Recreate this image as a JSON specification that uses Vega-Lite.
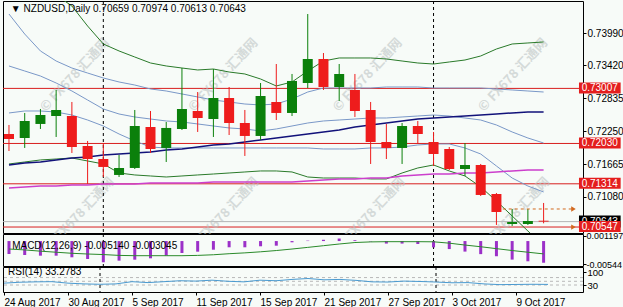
{
  "$schema": "https://vega.github.io/schema/vega-lite/v6.json",
  "padding": {"left": 2, "right": 0, "top": 0, "bottom": 0},
  "background": "#f7fbf8",
  "spacing": 1,
  "bounds": "flush",
  "config": {
    "view": {"stroke": "#000000", "strokeWidth": 1, "fill": "#f7fbf8"},
    "font": "Liberation Sans",
    "axis": {"labelFont": "Liberation Sans", "labelFontSize": 10, "labelColor": "#000000", "tickColor": "#000000", "tickSize": 3, "domain": false, "grid": false, "title": null, "labelPadding": 1},
    "text": {"font": "Liberation Sans", "fontSize": 10}
  },
  "datasets": {
    "d": [
      {"i":0,"d":"2017-08-24","o":0.72198,"h":0.72358,"l":0.71896,"c":0.72109,"u2":0.75144,"u1":0.74327,"m":0.73405,"l1":0.72571,"l2":0.71666,"ma":0.71648,"mb":0.7124,"macd":-0.00307,"sig":-0.00189,"rsi":40},
      {"i":1,"d":"2017-08-25","o":0.72127,"h":0.72571,"l":0.7195,"c":0.72429,"u2":0.75002,"u1":0.73972,"m":0.73316,"l1":0.72606,"l2":0.71701,"ma":0.71684,"mb":0.71258,"macd":-0.00331,"sig":-0.0021,"rsi":45},
      {"i":2,"d":"2017-08-28","o":0.72376,"h":0.72642,"l":0.72287,"c":0.72535,"u2":0.74842,"u1":0.73671,"m":0.73227,"l1":0.72606,"l2":0.71737,"ma":0.71701,"mb":0.71275,"macd":-0.00347,"sig":-0.0024,"rsi":47},
      {"i":3,"d":"2017-08-29","o":0.72517,"h":0.72979,"l":0.72145,"c":0.72624,"u2":0.74664,"u1":0.73493,"m":0.73103,"l1":0.72588,"l2":0.71754,"ma":0.71737,"mb":0.71275,"macd":-0.00347,"sig":-0.00265,"rsi":48},
      {"i":4,"d":"2017-08-30","o":0.72517,"h":0.72766,"l":0.71861,"c":0.71967,"u2":0.74469,"u1":0.73369,"m":0.72961,"l1":0.72535,"l2":0.71772,"ma":0.71772,"mb":0.71293,"macd":-0.00385,"sig":-0.0029,"rsi":40},
      {"i":5,"d":"2017-08-31","o":0.71985,"h":0.72074,"l":0.71311,"c":0.71754,"u2":0.74114,"u1":0.7328,"m":0.72801,"l1":0.72446,"l2":0.71719,"ma":0.7179,"mb":0.71293,"macd":-0.00425,"sig":-0.00307,"rsi":36},
      {"i":6,"d":"2017-09-01","o":0.71754,"h":0.72038,"l":0.71435,"c":0.71613,"u2":0.73795,"u1":0.73192,"m":0.72642,"l1":0.7234,"l2":0.71666,"ma":0.71825,"mb":0.71311,"macd":-0.00503,"sig":-0.0032,"rsi":34},
      {"i":7,"d":"2017-09-04","o":0.71471,"h":0.71825,"l":0.71435,"c":0.71595,"u2":0.73671,"u1":0.73121,"m":0.72553,"l1":0.72198,"l2":0.71506,"ma":0.71843,"mb":0.71311,"macd":-0.00465,"sig":-0.0034,"rsi":36},
      {"i":8,"d":"2017-09-05","o":0.71595,"h":0.72624,"l":0.71577,"c":0.7234,"u2":0.73564,"u1":0.73067,"m":0.725,"l1":0.72074,"l2":0.71471,"ma":0.71861,"mb":0.71311,"macd":-0.00442,"sig":-0.00347,"rsi":48},
      {"i":9,"d":"2017-09-06","o":0.72322,"h":0.72606,"l":0.71861,"c":0.71932,"u2":0.73458,"u1":0.72997,"m":0.72464,"l1":0.71967,"l2":0.71453,"ma":0.71879,"mb":0.71329,"macd":-0.00409,"sig":-0.00347,"rsi":43},
      {"i":10,"d":"2017-09-07","o":0.7195,"h":0.72411,"l":0.71701,"c":0.72305,"u2":0.73405,"u1":0.72961,"m":0.72429,"l1":0.7195,"l2":0.71435,"ma":0.71914,"mb":0.71329,"macd":-0.00347,"sig":-0.00347,"rsi":48},
      {"i":11,"d":"2017-09-08","o":0.72287,"h":0.73369,"l":0.72269,"c":0.72642,"u2":0.73369,"u1":0.72908,"m":0.72411,"l1":0.7195,"l2":0.71453,"ma":0.71932,"mb":0.71329,"macd":-0.00283,"sig":-0.00347,"rsi":53},
      {"i":12,"d":"2017-09-11","o":0.72606,"h":0.72943,"l":0.72234,"c":0.72482,"u2":0.73334,"u1":0.72855,"m":0.72376,"l1":0.7195,"l2":0.71471,"ma":0.71967,"mb":0.71329,"macd":-0.00252,"sig":-0.0034,"rsi":51},
      {"i":13,"d":"2017-09-12","o":0.72464,"h":0.73351,"l":0.72145,"c":0.72837,"u2":0.73351,"u1":0.72801,"m":0.7234,"l1":0.7195,"l2":0.71488,"ma":0.72003,"mb":0.71346,"macd":-0.00205,"sig":-0.00325,"rsi":56},
      {"i":14,"d":"2017-09-13","o":0.72837,"h":0.73032,"l":0.7218,"c":0.72393,"u2":0.73298,"u1":0.72766,"m":0.72305,"l1":0.7195,"l2":0.71506,"ma":0.72021,"mb":0.71346,"macd":-0.00148,"sig":-0.003,"rsi":50},
      {"i":15,"d":"2017-09-14","o":0.72393,"h":0.72624,"l":0.71808,"c":0.72163,"u2":0.73263,"u1":0.7273,"m":0.72287,"l1":0.7195,"l2":0.71524,"ma":0.72056,"mb":0.71346,"macd":-0.00148,"sig":-0.0028,"rsi":47},
      {"i":16,"d":"2017-09-15","o":0.72163,"h":0.73103,"l":0.72092,"c":0.72872,"u2":0.73174,"u1":0.72713,"m":0.72251,"l1":0.7195,"l2":0.71542,"ma":0.72092,"mb":0.71346,"macd":-0.00124,"sig":-0.00255,"rsi":56},
      {"i":17,"d":"2017-09-18","o":0.72766,"h":0.7344,"l":0.72446,"c":0.72571,"u2":0.7305,"u1":0.7273,"m":0.72287,"l1":0.7195,"l2":0.71542,"ma":0.72127,"mb":0.71346,"macd":-0.0011,"sig":-0.00225,"rsi":53},
      {"i":18,"d":"2017-09-19","o":0.72571,"h":0.73263,"l":0.72517,"c":0.73139,"u2":0.73121,"u1":0.72819,"m":0.7234,"l1":0.7195,"l2":0.71524,"ma":0.72163,"mb":0.71346,"macd":-0.0003,"sig":-0.00189,"rsi":60},
      {"i":19,"d":"2017-09-20","o":0.73103,"h":0.74327,"l":0.73014,"c":0.73529,"u2":0.73316,"u1":0.72943,"m":0.72393,"l1":0.7195,"l2":0.71435,"ma":0.72198,"mb":0.71364,"macd":0.0001,"sig":-0.0015,"rsi":65},
      {"i":20,"d":"2017-09-21","o":0.73529,"h":0.73635,"l":0.72979,"c":0.73032,"u2":0.73493,"u1":0.73014,"m":0.72429,"l1":0.71932,"l2":0.71417,"ma":0.72234,"mb":0.71382,"macd":0.0003,"sig":-0.0011,"rsi":58},
      {"i":21,"d":"2017-09-22","o":0.73032,"h":0.7344,"l":0.72784,"c":0.73263,"u2":0.73547,"u1":0.73014,"m":0.72446,"l1":0.71932,"l2":0.71417,"ma":0.72269,"mb":0.714,"macd":0.0006,"sig":-0.0007,"rsi":60},
      {"i":22,"d":"2017-09-25","o":0.72979,"h":0.73263,"l":0.725,"c":0.72606,"u2":0.73547,"u1":0.73014,"m":0.72464,"l1":0.71932,"l2":0.71417,"ma":0.72322,"mb":0.714,"macd":0.0002,"sig":-0.00035,"rsi":55},
      {"i":23,"d":"2017-09-26","o":0.72624,"h":0.72766,"l":0.71666,"c":0.72056,"u2":0.73547,"u1":0.73014,"m":0.72482,"l1":0.7195,"l2":0.714,"ma":0.72358,"mb":0.71417,"macd":-0.0001,"sig":-0.0002,"rsi":47},
      {"i":24,"d":"2017-09-27","o":0.72056,"h":0.72376,"l":0.71754,"c":0.7195,"u2":0.73529,"u1":0.73032,"m":0.72482,"l1":0.7195,"l2":0.714,"ma":0.72393,"mb":0.71417,"macd":-0.0006,"sig":-0.00015,"rsi":46},
      {"i":25,"d":"2017-09-28","o":0.7195,"h":0.72393,"l":0.71666,"c":0.7234,"u2":0.73493,"u1":0.73032,"m":0.725,"l1":0.71967,"l2":0.71506,"ma":0.72429,"mb":0.71453,"macd":-0.0006,"sig":-0.00015,"rsi":51},
      {"i":26,"d":"2017-09-29","o":0.7234,"h":0.72429,"l":0.72021,"c":0.72198,"u2":0.73458,"u1":0.73032,"m":0.72517,"l1":0.72003,"l2":0.71595,"ma":0.72464,"mb":0.71471,"macd":-0.0007,"sig":-0.00015,"rsi":49},
      {"i":27,"d":"2017-10-02","o":0.72056,"h":0.72234,"l":0.7163,"c":0.71843,"u2":0.7344,"u1":0.73014,"m":0.72535,"l1":0.72021,"l2":0.71648,"ma":0.72482,"mb":0.71488,"macd":-0.0015,"sig":-0.00018,"rsi":46},
      {"i":28,"d":"2017-10-03","o":0.71932,"h":0.71967,"l":0.71559,"c":0.71577,"u2":0.73476,"u1":0.73014,"m":0.72517,"l1":0.72021,"l2":0.71542,"ma":0.725,"mb":0.71488,"macd":-0.0019,"sig":-0.0005,"rsi":42},
      {"i":29,"d":"2017-10-04","o":0.71577,"h":0.72038,"l":0.71453,"c":0.71648,"u2":0.73511,"u1":0.73014,"m":0.72482,"l1":0.7195,"l2":0.71453,"ma":0.72517,"mb":0.71506,"macd":-0.0025,"sig":-0.00095,"rsi":43},
      {"i":30,"d":"2017-10-05","o":0.71648,"h":0.71666,"l":0.71098,"c":0.71116,"u2":0.73582,"u1":0.73014,"m":0.72446,"l1":0.71843,"l2":0.71258,"ma":0.72535,"mb":0.71506,"macd":-0.0031,"sig":-0.00135,"rsi":36},
      {"i":31,"d":"2017-10-06","o":0.71133,"h":0.71151,"l":0.70584,"c":0.70814,"u2":0.73706,"u1":0.72997,"m":0.72358,"l1":0.7163,"l2":0.71009,"ma":0.72553,"mb":0.71524,"macd":-0.0036,"sig":-0.0018,"rsi":32},
      {"i":32,"d":"2017-10-09","o":0.70601,"h":0.70867,"l":0.70566,"c":0.70636,"u2":0.73795,"u1":0.72979,"m":0.72234,"l1":0.71417,"l2":0.70743,"ma":0.72571,"mb":0.71542,"macd":-0.0044,"sig":-0.00225,"rsi":33},
      {"i":33,"d":"2017-10-10","o":0.70601,"h":0.70867,"l":0.70584,"c":0.70654,"u2":0.73813,"u1":0.72961,"m":0.72127,"l1":0.71275,"l2":0.70477,"ma":0.72588,"mb":0.71559,"macd":-0.0048,"sig":-0.00265,"rsi":34},
      {"i":34,"d":"2017-10-11","o":0.70659,"h":0.70974,"l":0.70613,"c":0.70643,"u2":0.73831,"u1":0.72943,"m":0.72038,"l1":0.71169,"l2":0.70211,"ma":0.72588,"mb":0.71559,"macd":-0.00514,"sig":-0.003045,"rsi":33.28}
    ],
    "levels": [{"level":0.73007},{"level":0.7203},{"level":0.71314},{"level":0.70547}],
    "seps": [{"i":6},{"i":27}],
    "wm": [{"t":"© FX678 汇通网"}]
  },
  "vconcat": [
    {
      "width": 580,
      "height": 232,
      "data": {"name": "d"},
      "layer": [
        {"data": {"name": "levels"}, "mark": {"type": "rule", "color": "#d81e1e", "strokeWidth": 1},
         "encoding": {"y": {"field": "level", "type": "quantitative", "scale": {"domain": [0.70441, 0.74558], "nice": false, "zero": false}, "axis": {"orient": "right", "values": [0.7399, 0.7342, 0.72835, 0.7225, 0.71665, 0.7108], "format": ".5f"}}}},
        {"data": {"values": [{"p": 0.70643}]}, "mark": {"type": "rule", "color": "#b4b4b4", "strokeWidth": 1},
         "encoding": {"y": {"field": "p", "type": "quantitative", "scale": {"domain": [0.70441, 0.74558], "nice": false, "zero": false}}}},
        {"data": {"name": "wm"}, "mark": {"type": "text", "font": "Noto Sans CJK SC", "fontWeight": "bold", "fontSize": 13, "angle": -47, "align": "center", "baseline": "middle", "color": "#b9c0c0", "opacity": 0.55, "clip": false},
         "encoding": {"x": {"datum": 4.19, "type": "quantitative", "scale": {"domain": [-0.0625, 36.1875], "nice": false, "zero": false}}, "y": {"datum": 0.73245, "type": "quantitative", "scale": {"domain": [0.70441, 0.74558], "nice": false, "zero": false}}, "text": {"field": "t"}}},
        {"data": {"name": "wm"}, "mark": {"type": "text", "font": "Noto Sans CJK SC", "fontWeight": "bold", "fontSize": 13, "angle": -47, "align": "center", "baseline": "middle", "color": "#b9c0c0", "opacity": 0.55, "clip": false},
         "encoding": {"x": {"datum": 13.63, "type": "quantitative", "scale": {"domain": [-0.0625, 36.1875], "nice": false, "zero": false}}, "y": {"datum": 0.73245, "type": "quantitative", "scale": {"domain": [0.70441, 0.74558], "nice": false, "zero": false}}, "text": {"field": "t"}}},
        {"data": {"name": "wm"}, "mark": {"type": "text", "font": "Noto Sans CJK SC", "fontWeight": "bold", "fontSize": 13, "angle": -47, "align": "center", "baseline": "middle", "color": "#b9c0c0", "opacity": 0.55, "clip": false},
         "encoding": {"x": {"datum": 22.81, "type": "quantitative", "scale": {"domain": [-0.0625, 36.1875], "nice": false, "zero": false}}, "y": {"datum": 0.73245, "type": "quantitative", "scale": {"domain": [0.70441, 0.74558], "nice": false, "zero": false}}, "text": {"field": "t"}}},
        {"data": {"name": "wm"}, "mark": {"type": "text", "font": "Noto Sans CJK SC", "fontWeight": "bold", "fontSize": 13, "angle": -47, "align": "center", "baseline": "middle", "color": "#b9c0c0", "opacity": 0.55, "clip": false},
         "encoding": {"x": {"datum": 32.06, "type": "quantitative", "scale": {"domain": [-0.0625, 36.1875], "nice": false, "zero": false}}, "y": {"datum": 0.73245, "type": "quantitative", "scale": {"domain": [0.70441, 0.74558], "nice": false, "zero": false}}, "text": {"field": "t"}}},
        {"data": {"name": "wm"}, "mark": {"type": "text", "font": "Noto Sans CJK SC", "fontWeight": "bold", "fontSize": 13, "angle": -47, "align": "center", "baseline": "middle", "color": "#b9c0c0", "opacity": 0.55, "clip": false},
         "encoding": {"x": {"datum": 4.5, "type": "quantitative", "scale": {"domain": [-0.0625, 36.1875], "nice": false, "zero": false}}, "y": {"datum": 0.70779, "type": "quantitative", "scale": {"domain": [0.70441, 0.74558], "nice": false, "zero": false}}, "text": {"field": "t"}}},
        {"data": {"name": "wm"}, "mark": {"type": "text", "font": "Noto Sans CJK SC", "fontWeight": "bold", "fontSize": 13, "angle": -47, "align": "center", "baseline": "middle", "color": "#b9c0c0", "opacity": 0.55, "clip": false},
         "encoding": {"x": {"datum": 13.7, "type": "quantitative", "scale": {"domain": [-0.0625, 36.1875], "nice": false, "zero": false}}, "y": {"datum": 0.70779, "type": "quantitative", "scale": {"domain": [0.70441, 0.74558], "nice": false, "zero": false}}, "text": {"field": "t"}}},
        {"data": {"name": "wm"}, "mark": {"type": "text", "font": "Noto Sans CJK SC", "fontWeight": "bold", "fontSize": 13, "angle": -47, "align": "center", "baseline": "middle", "color": "#b9c0c0", "opacity": 0.55, "clip": false},
         "encoding": {"x": {"datum": 23.0, "type": "quantitative", "scale": {"domain": [-0.0625, 36.1875], "nice": false, "zero": false}}, "y": {"datum": 0.70779, "type": "quantitative", "scale": {"domain": [0.70441, 0.74558], "nice": false, "zero": false}}, "text": {"field": "t"}}},
        {"data": {"name": "wm"}, "mark": {"type": "text", "font": "Noto Sans CJK SC", "fontWeight": "bold", "fontSize": 13, "angle": -47, "align": "center", "baseline": "middle", "color": "#b9c0c0", "opacity": 0.55, "clip": false},
         "encoding": {"x": {"datum": 32.2, "type": "quantitative", "scale": {"domain": [-0.0625, 36.1875], "nice": false, "zero": false}}, "y": {"datum": 0.70779, "type": "quantitative", "scale": {"domain": [0.70441, 0.74558], "nice": false, "zero": false}}, "text": {"field": "t"}}},
        {"data": {"name": "seps"}, "mark": {"type": "rule", "color": "#000000", "strokeDash": [3, 3], "strokeWidth": 1},
         "encoding": {"x": {"field": "i", "type": "quantitative", "scale": {"domain": [-0.0625, 36.1875], "nice": false, "zero": false}, "axis": null}}},
        {"mark": {"type": "line", "color": "#2a7a2a", "strokeWidth": 1, "clip": true},
         "encoding": {"x": {"field": "i", "type": "quantitative", "scale": {"domain": [-0.0625, 36.1875], "nice": false, "zero": false}, "axis": null}, "y": {"field": "u2", "type": "quantitative", "scale": {"domain": [0.70441, 0.74558], "nice": false, "zero": false}}}},
        {"mark": {"type": "line", "color": "#2a7a2a", "strokeWidth": 1, "clip": true},
         "encoding": {"x": {"field": "i", "type": "quantitative", "scale": {"domain": [-0.0625, 36.1875], "nice": false, "zero": false}}, "y": {"field": "l2", "type": "quantitative", "scale": {"domain": [0.70441, 0.74558], "nice": false, "zero": false}}}},
        {"mark": {"type": "line", "color": "#7a98c8", "strokeWidth": 1, "clip": true},
         "encoding": {"x": {"field": "i", "type": "quantitative", "scale": {"domain": [-0.0625, 36.1875], "nice": false, "zero": false}}, "y": {"field": "u1", "type": "quantitative", "scale": {"domain": [0.70441, 0.74558], "nice": false, "zero": false}}}},
        {"mark": {"type": "line", "color": "#7a98c8", "strokeWidth": 1, "clip": true},
         "encoding": {"x": {"field": "i", "type": "quantitative", "scale": {"domain": [-0.0625, 36.1875], "nice": false, "zero": false}}, "y": {"field": "m", "type": "quantitative", "scale": {"domain": [0.70441, 0.74558], "nice": false, "zero": false}}}},
        {"mark": {"type": "line", "color": "#7a98c8", "strokeWidth": 1, "clip": true},
         "encoding": {"x": {"field": "i", "type": "quantitative", "scale": {"domain": [-0.0625, 36.1875], "nice": false, "zero": false}}, "y": {"field": "l1", "type": "quantitative", "scale": {"domain": [0.70441, 0.74558], "nice": false, "zero": false}}}},
        {"mark": {"type": "line", "color": "#cc3fcc", "strokeWidth": 1.5, "clip": true},
         "encoding": {"x": {"field": "i", "type": "quantitative", "scale": {"domain": [-0.0625, 36.1875], "nice": false, "zero": false}}, "y": {"field": "mb", "type": "quantitative", "scale": {"domain": [0.70441, 0.74558], "nice": false, "zero": false}}}},
        {"mark": {"type": "line", "color": "#12127a", "strokeWidth": 1.5, "clip": true},
         "encoding": {"x": {"field": "i", "type": "quantitative", "scale": {"domain": [-0.0625, 36.1875], "nice": false, "zero": false}}, "y": {"field": "ma", "type": "quantitative", "scale": {"domain": [0.70441, 0.74558], "nice": false, "zero": false}}}},
        {"mark": {"type": "rule", "strokeWidth": 1, "clip": true},
         "encoding": {"x": {"field": "i", "type": "quantitative", "scale": {"domain": [-0.0625, 36.1875], "nice": false, "zero": false}}, "y": {"field": "l", "type": "quantitative", "scale": {"domain": [0.70441, 0.74558], "nice": false, "zero": false}}, "y2": {"field": "h"},
           "color": {"condition": {"test": "datum.c >= datum.o", "value": "#0b800b"}, "value": "#ee1c1c"}}},
        {"mark": {"type": "bar", "width": 10, "clip": true},
         "encoding": {"x": {"field": "i", "type": "quantitative", "scale": {"domain": [-0.0625, 36.1875], "nice": false, "zero": false}}, "y": {"field": "o", "type": "quantitative", "scale": {"domain": [0.70441, 0.74558], "nice": false, "zero": false}}, "y2": {"field": "c"},
           "color": {"condition": {"test": "datum.c >= datum.o", "value": "#0b800b"}, "value": "#ee1c1c"}}},
        {"data": {"values": [{"p": 0.70867}]}, "mark": {"type": "rule", "color": "#d2691e", "strokeDash": [3, 3], "strokeWidth": 1},
         "encoding": {"x": {"datum": 31.4, "type": "quantitative", "scale": {"domain": [-0.0625, 36.1875], "nice": false, "zero": false}}, "x2": {"datum": 35.8}, "y": {"field": "p", "type": "quantitative", "scale": {"domain": [0.70441, 0.74558], "nice": false, "zero": false}}}},
        {"data": {"values": [{"p": 0.70867}, {"p": 0.70547}]}, "mark": {"type": "point", "shape": "triangle-right", "filled": true, "color": "#d2691e", "size": 28, "opacity": 1},
         "encoding": {"x": {"datum": 35.9, "type": "quantitative", "scale": {"domain": [-0.0625, 36.1875], "nice": false, "zero": false}}, "y": {"field": "p", "type": "quantitative", "scale": {"domain": [0.70441, 0.74558], "nice": false, "zero": false}}}},
        {"data": {"values": [{"p": 0.70643}]}, "mark": {"type": "rect", "color": "#000000", "clip": false, "yOffset": -6, "y2Offset": 6},
         "encoding": {"x": {"datum": 36.25, "type": "quantitative", "scale": {"domain": [-0.0625, 36.1875], "nice": false, "zero": false}}, "x2": {"datum": 38.9}, "y": {"field": "p", "type": "quantitative", "scale": {"domain": [0.70441, 0.74558], "nice": false, "zero": false}}, "y2": {"field": "p"}}},
        {"data": {"values": [{"p": 0.70643}]}, "mark": {"type": "text", "color": "#ffffff", "align": "left", "baseline": "middle", "clip": false},
         "encoding": {"x": {"datum": 36.42, "type": "quantitative", "scale": {"domain": [-0.0625, 36.1875], "nice": false, "zero": false}}, "y": {"field": "p", "type": "quantitative", "scale": {"domain": [0.70441, 0.74558], "nice": false, "zero": false}}, "text": {"field": "p", "format": ".5f"}}},
        {"data": {"name": "levels"}, "mark": {"type": "rect", "color": "#e41e1e", "clip": false, "yOffset": -6, "y2Offset": 5},
         "encoding": {"x": {"datum": 36.25, "type": "quantitative", "scale": {"domain": [-0.0625, 36.1875], "nice": false, "zero": false}}, "x2": {"datum": 38.9}, "y": {"field": "level", "type": "quantitative", "scale": {"domain": [0.70441, 0.74558], "nice": false, "zero": false}}, "y2": {"field": "level"}}},
        {"data": {"name": "levels"}, "mark": {"type": "text", "color": "#ffffff", "align": "left", "baseline": "middle", "clip": false},
         "encoding": {"x": {"datum": 36.42, "type": "quantitative", "scale": {"domain": [-0.0625, 36.1875], "nice": false, "zero": false}}, "y": {"field": "level", "type": "quantitative", "scale": {"domain": [0.70441, 0.74558], "nice": false, "zero": false}}, "text": {"field": "level", "format": ".5f"}}},
        {"data": {"values": [{"t": "▼ NZDUSD,Daily  0.70659 0.70974 0.70613 0.70643"}]}, "mark": {"type": "text", "color": "#000000", "align": "left", "baseline": "middle", "fontSize": 10},
         "encoding": {"x": {"datum": 0.12, "type": "quantitative", "scale": {"domain": [-0.0625, 36.1875], "nice": false, "zero": false}}, "y": {"datum": 0.74416, "type": "quantitative", "scale": {"domain": [0.70441, 0.74558], "nice": false, "zero": false}}, "text": {"field": "t"}}}
      ]
    },
    {
      "width": 580,
      "height": 32,
      "data": {"name": "d"},
      "layer": [
        {"data": {"name": "seps"}, "mark": {"type": "rule", "color": "#000000", "strokeDash": [3, 3], "strokeWidth": 1},
         "encoding": {"x": {"field": "i", "type": "quantitative", "scale": {"domain": [-0.0625, 36.1875], "nice": false, "zero": false}, "axis": null}}},
        {"mark": {"type": "bar", "width": 3, "color": "#9b30c8", "clip": true},
         "encoding": {"x": {"field": "i", "type": "quantitative", "scale": {"domain": [-0.0625, 36.1875], "nice": false, "zero": false}, "axis": null}, "y": {"field": "macd", "type": "quantitative", "scale": {"domain": [-0.005914, 0.001671], "nice": false, "zero": false}, "axis": {"orient": "right", "values": [0.001197, -0.00544], "labelFontSize": 9, "labelPadding": 0, "labelExpr": "datum.value > 0 ? format(datum.value, '.6f') : '-' + format(abs(datum.value), '.5f')"}}, "y2": {"datum": 0}}},
        {"mark": {"type": "line", "color": "#2a8a2a", "strokeWidth": 1, "clip": true},
         "encoding": {"x": {"field": "i", "type": "quantitative", "scale": {"domain": [-0.0625, 36.1875], "nice": false, "zero": false}}, "y": {"field": "sig", "type": "quantitative", "scale": {"domain": [-0.005914, 0.001671], "nice": false, "zero": false}}}},
        {"data": {"values": [{"t": "MACD(12,26,9) -0.005140 -0.003045"}]}, "mark": {"type": "text", "color": "#000000", "align": "left", "baseline": "middle"},
         "encoding": {"x": {"datum": 0.2, "type": "quantitative", "scale": {"domain": [-0.0625, 36.1875], "nice": false, "zero": false}}, "y": {"datum": -0.0011, "type": "quantitative", "scale": {"domain": [-0.005914, 0.001671], "nice": false, "zero": false}}, "text": {"field": "t"}}}
      ]
    },
    {
      "width": 580,
      "height": 25,
      "data": {"name": "d"},
      "layer": [
        {"data": {"values": [{"lv": 70}, {"lv": 50}, {"lv": 30}]}, "mark": {"type": "rule", "color": "#b8b8b8", "strokeDash": [3, 3], "strokeWidth": 1},
         "encoding": {"y": {"field": "lv", "type": "quantitative", "scale": {"domain": [-7.6, 126.9], "nice": false, "zero": false}, "axis": {"orient": "right", "values": [100, 70, 50, 30], "labelOverlap": false, "labelFontSize": 9.5}}}},
        {"data": {"name": "seps"}, "mark": {"type": "rule", "color": "#000000", "strokeDash": [3, 3], "strokeWidth": 1},
         "encoding": {"x": {"field": "i", "type": "quantitative", "scale": {"domain": [-0.0625, 36.1875], "nice": false, "zero": false},
           "axis": {"orient": "bottom", "values": [0, 4, 8, 12, 16, 20, 24, 28, 32], "labelAlign": "left", "labelPadding": 2, "labelOverlap": false, "labelFlush": false, "labelBound": false,
             "labelExpr": "['24 Aug 2017','30 Aug 2017','5 Sep 2017','11 Sep 2017','15 Sep 2017','21 Sep 2017','27 Sep 2017','3 Oct 2017','9 Oct 2017'][round(datum.value / 4)]"}}}},
        {"mark": {"type": "line", "color": "#4a9ad0", "strokeWidth": 1, "clip": true},
         "encoding": {"x": {"field": "i", "type": "quantitative", "scale": {"domain": [-0.0625, 36.1875], "nice": false, "zero": false}}, "y": {"field": "rsi", "type": "quantitative", "scale": {"domain": [-7.6, 126.9], "nice": false, "zero": false}}}},
        {"data": {"values": [{"t": "RSI(14) 33.2783"}]}, "mark": {"type": "text", "color": "#000000", "align": "left", "baseline": "middle"},
         "encoding": {"x": {"datum": 0.25, "type": "quantitative", "scale": {"domain": [-0.0625, 36.1875], "nice": false, "zero": false}}, "y": {"datum": 100, "type": "quantitative", "scale": {"domain": [-7.6, 126.9], "nice": false, "zero": false}}, "text": {"field": "t"}}}
      ]
    }
  ]
}
